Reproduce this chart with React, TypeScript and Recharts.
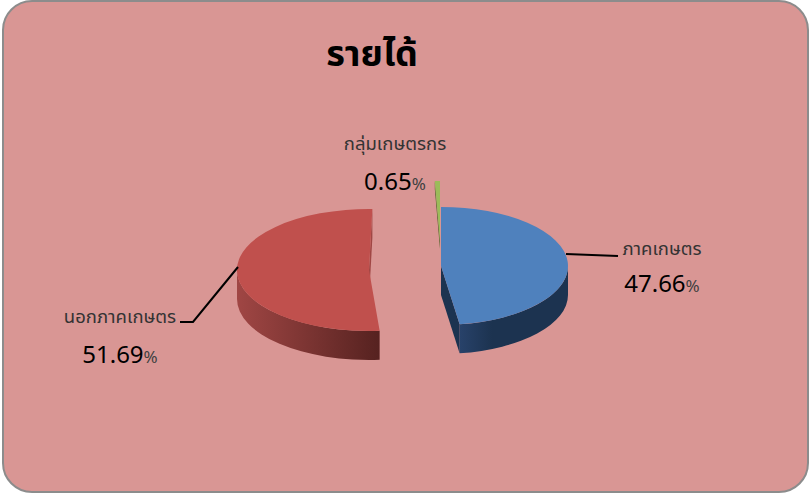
import React from "react";
import { PieChart, Pie, Cell } from "recharts";

const categories = ["ภาคเกษตร", "นอกภาคเกษตร", "กลุ่มเกษตรกร"];
const shares = [47.66, 51.69, 0.65];
const topColors = ["#4f81bd", "#c0504d", "#9bbb59"];
const title = "รายได้";

const data = categories.map((name, i) => ({ name, value: shares[i] }));

const WIDTH = 810;
const HEIGHT = 494;
const PIE_CX = 405;
const PIE_CY = 247;
const FONT = "Tahoma, 'Noto Sans', 'Noto Sans Thai', 'Liberation Sans', 'DejaVu Sans', sans-serif";

type Geo = {
  dx: number; dy: number; rx: number; ry: number; depth: number; rotate: number;
  wallStops: [number, string][]; cut: string;
};
const GEOMETRY: Record<string, Geo> = {
  "ภาคเกษตร": { dx: 36, dy: 19, rx: 127, ry: 59, depth: 29, rotate: 0, wallStops: [[0, "#28426a"], [0.3, "#1c3350"], [1, "#1c3350"]], cut: "#1c3350" },
  "นอกภาคเกษตร": { dx: -36, dy: 23, rx: 132, ry: 61, depth: 29, rotate: -3.8, wallStops: [[0, "#a04644"], [1, "#562220"]], cut: "#a04644" },
  "กลุ่มเกษตรกร": { dx: 35, dy: -6, rx: 127, ry: 60, depth: 8, rotate: 0, wallStops: [[0, "#4f6228"], [1, "#4f6228"]], cut: "#4f6228" },
};

type LabelPos = { nameX: number; nameY: number; valueX: number; valueY: number; leader: string };
const LABELS: Record<string, LabelPos> = {
  "ภาคเกษตร": { nameX: 662, nameY: 255, valueX: 662, valueY: 292, leader: "566,254 618,256" },
  "นอกภาคเกษตร": { nameX: 120, nameY: 323, valueX: 120, valueY: 363, leader: "238,267 193,322 180,322" },
  "กลุ่มเกษตรกร": { nameX: 395, nameY: 150, valueX: 395, valueY: 190, leader: "" },
};

function Slice3D(props: any) {
  const { startAngle, endAngle, cx, cy, name, fill, payload } = props;
  const key = name ?? payload?.name;
  const g = GEOMETRY[key];
  if (!g) return null;
  const ox = cx + g.dx;
  const oy = cy + g.dy;
  const s = startAngle + g.rotate;
  const e = endAngle + g.rotate;
  const pt = (a: number) => {
    const r = (a * Math.PI) / 180;
    return [ox + g.rx * Math.cos(r), oy - g.ry * Math.sin(r)];
  };
  const [sx, sy] = pt(s);
  const [ex, ey] = pt(e);
  const large = Math.abs(s - e) > 180 ? 1 : 0;
  const top = `M${ox},${oy} L${sx},${sy} A${g.rx},${g.ry} 0 ${large} 1 ${ex},${ey} Z`;

  // the lower half of the ellipse carries the visible outer wall (angle runs -180..0)
  let wall = "";
  const hi = Math.min(s, 0);
  const lo = Math.max(e, -180);
  if (hi > lo) {
    const [ax, ay] = pt(hi);
    const [bx, by] = pt(lo);
    wall = `M${ax},${ay} A${g.rx},${g.ry} 0 0 1 ${bx},${by} L${bx},${by + g.depth} A${g.rx},${g.ry} 0 0 0 ${ax},${ay + g.depth} Z`;
  }
  const gradId = `wall-${Math.round(Math.abs(s) * 10)}`;
  const cutEnd = key === "กลุ่มเกษตรกร" ? [sx, sy] : [ex, ey];
  const cut = `M${ox},${oy} L${cutEnd[0]},${cutEnd[1]} L${cutEnd[0]},${cutEnd[1] + g.depth} L${ox},${oy + g.depth} Z`;
  return (
    <g>
      <defs>
        <linearGradient id={gradId} x1="0" y1="0" x2="1" y2="0">
          {g.wallStops.map(([offset, color]) => <stop key={offset} offset={offset} stopColor={color} />)}
        </linearGradient>
      </defs>
      <path d={cut} fill={g.cut} />
      {wall && <path d={wall} fill={`url(#${gradId})`} />}
      <path d={top} fill={fill} />
    </g>
  );
}

function SliceLabel(props: any) {
  const { name, value } = props;
  const p = LABELS[name];
  if (!p) return null;
  return (
    <g fontFamily={FONT}>
      {p.leader && <polyline points={p.leader} fill="none" stroke="#000" strokeWidth={2} />}
      <text x={p.nameX} y={p.nameY} textAnchor="middle" fontSize={18.5} fill="#333">{name}</text>
      <text x={p.valueX} y={p.valueY} textAnchor="middle" fill="#000" fontSize={24}>
        {Number(value).toFixed(2)}
        <tspan fontSize={17} fill="#404040">%</tspan>
      </text>
    </g>
  );
}

export default function App() {
  return (
    <div style={{ position: "absolute", left: 0, top: 0, width: WIDTH, height: HEIGHT, background: "#fff" }}>
      <div
        style={{
          position: "absolute", left: 2, top: 0, width: 803, height: 489,
          background: "#d99694", border: "2px solid #8c8c8c", borderRadius: 30,
        }}
      />
      <div style={{ position: "absolute", left: 0, top: 0 }}>
        <PieChart width={WIDTH} height={HEIGHT} margin={{ top: 0, right: 0, bottom: 0, left: 0 }}>
          <text x={372} y={66} textAnchor="middle" fontFamily={FONT} fontWeight={700} fontSize={36} fill="#000">{title}</text>
          <Pie
            data={data}
            dataKey="value"
            nameKey="name"
            cx={PIE_CX}
            cy={PIE_CY}
            outerRadius={100}
            startAngle={90}
            endAngle={-270}
            stroke="none"
            isAnimationActive={false}
            labelLine={false}
            label={SliceLabel}
            shape={Slice3D}
          >
            {data.map((d, i) => <Cell key={d.name} fill={topColors[i]} />)}
          </Pie>
        </PieChart>
      </div>
    </div>
  );
}
